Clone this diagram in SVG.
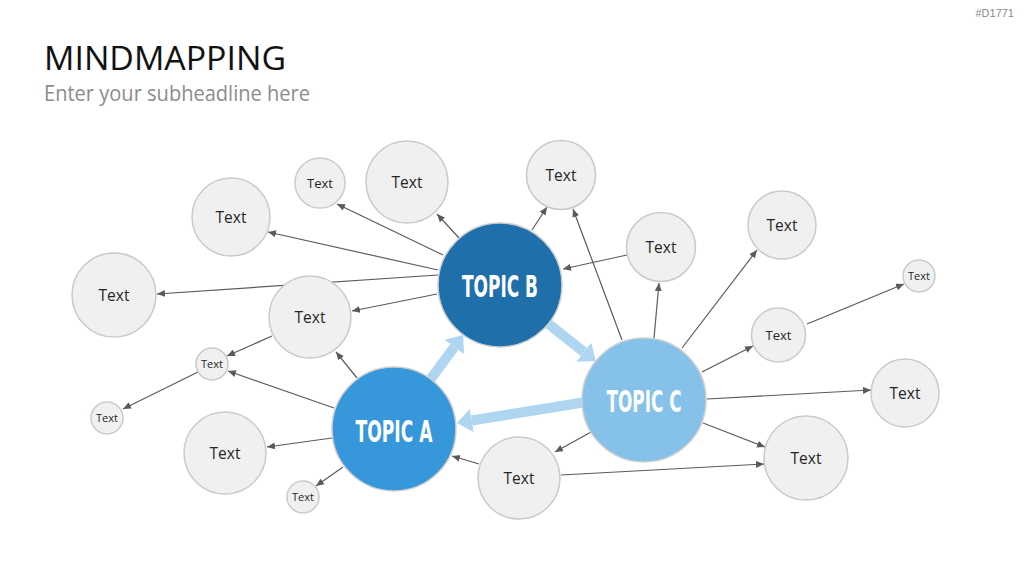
<svg xmlns="http://www.w3.org/2000/svg" width="1024" height="576" viewBox="0 0 1024 576">
<style>
.title{font-family:"Open Sans","Liberation Sans",sans-serif;font-size:33px;fill:#111}
.sub{font-family:"Open Sans","Liberation Sans",sans-serif;font-size:21px;fill:#8c8c8c}
.code{font-family:"Liberation Sans",sans-serif;font-size:11px;fill:#8a8a8a}
.n{fill:#f0f0f0;stroke:#cacaca;stroke-width:1.5}
.t{font-family:"Open Sans","Liberation Sans",sans-serif;fill:#262626;text-anchor:middle}
.tp{font-family:"Liberation Sans Narrow","DejaVu Sans Condensed","Roboto",sans-serif;font-weight:bold;fill:#fff;text-anchor:middle;font-size:31px}
.c{stroke:#5a5a5a;stroke-width:1.2;fill:none;marker-end:url(#ah)}
.big{stroke:#aed6f1;stroke-width:10;fill:none;marker-end:url(#bh)}
</style>
<defs>
<marker id="ah" markerUnits="userSpaceOnUse" markerWidth="10" markerHeight="8" refX="8" refY="3.5" orient="auto"><path d="M0,0 L8,3.5 L0,7 z" fill="#5a5a5a"/></marker>
<marker id="bh" markerUnits="userSpaceOnUse" markerWidth="18" markerHeight="26" refX="0" refY="12" orient="auto"><path d="M0,0 L15,12 L0,24 z" fill="#aed6f1"/></marker>
</defs>
<rect width="1024" height="576" fill="#fff"/>
<text class="code" x="1014" y="17" text-anchor="end">#D1771</text>
<text class="title" x="44" y="70" textLength="242" lengthAdjust="spacingAndGlyphs">MINDMAPPING</text>
<text class="sub" x="44" y="101" textLength="266" lengthAdjust="spacingAndGlyphs">Enter your subheadline here</text>
<g id="connectors">
<line class="c" x1="443" y1="255" x2="337" y2="204"/>
<line class="c" x1="459" y1="238" x2="437" y2="214"/>
<line class="c" x1="438" y1="270" x2="268" y2="232"/>
<line class="c" x1="438" y1="275" x2="157" y2="294"/>
<line class="c" x1="437" y1="294" x2="352" y2="311"/>
<line class="c" x1="532" y1="230" x2="547" y2="207"/>
<line class="c" x1="627" y1="255" x2="563" y2="269"/>
<line class="c" x1="622" y1="340" x2="573" y2="209"/>
<line class="c" x1="654" y1="338" x2="659" y2="283"/>
<line class="c" x1="682" y1="348" x2="757" y2="250"/>
<line class="c" x1="702" y1="372" x2="753" y2="346"/>
<line class="c" x1="807" y1="324" x2="904" y2="284"/>
<line class="c" x1="707" y1="399" x2="871" y2="390"/>
<line class="c" x1="703" y1="423" x2="765" y2="447"/>
<line class="c" x1="561" y1="475" x2="764" y2="464"/>
<line class="c" x1="591" y1="432" x2="555" y2="452"/>
<line class="c" x1="357" y1="378" x2="336" y2="352"/>
<line class="c" x1="334" y1="408" x2="228" y2="371"/>
<line class="c" x1="332" y1="438" x2="267" y2="447"/>
<line class="c" x1="343" y1="467" x2="316" y2="486"/>
<line class="c" x1="479" y1="464" x2="452" y2="456"/>
<line class="c" x1="272" y1="336" x2="227" y2="356"/>
<line class="c" x1="198" y1="372" x2="123" y2="409"/>
<line class="big" x1="430" y1="380" x2="454.3" y2="347"/>
<line class="big" x1="548" y1="323.5" x2="583.9" y2="352"/>
<line class="big" x1="583" y1="402.5" x2="471.8" y2="420.5"/>
</g>
<g id="n1"><circle class="n" cx="231" cy="217" r="39"/><text class="t" x="231" y="222.5" font-size="15.5">Text</text></g>
<g id="n2"><circle class="n" cx="320" cy="183" r="25"/><text class="t" x="320" y="188" font-size="13">Text</text></g>
<g id="n3"><circle class="n" cx="407" cy="182" r="41"/><text class="t" x="407" y="187.5" font-size="15.5">Text</text></g>
<g id="n4"><circle class="n" cx="114" cy="295" r="42"/><text class="t" x="114" y="300.5" font-size="15.5">Text</text></g>
<g id="n5"><circle class="n" cx="310" cy="317" r="41"/><text class="t" x="310" y="322.5" font-size="15.5">Text</text></g>
<g id="n6"><circle class="n" cx="212" cy="364" r="16"/><text class="t" x="212" y="368" font-size="11">Text</text></g>
<g id="n7"><circle class="n" cx="107" cy="418" r="16"/><text class="t" x="107" y="422" font-size="11">Text</text></g>
<g id="n8"><circle class="n" cx="225" cy="453" r="41"/><text class="t" x="225" y="458.5" font-size="15.5">Text</text></g>
<g id="n9"><circle class="n" cx="303" cy="497" r="16"/><text class="t" x="303" y="501" font-size="11">Text</text></g>
<g id="n10"><circle class="n" cx="519" cy="478" r="41"/><text class="t" x="519" y="483.5" font-size="15.5">Text</text></g>
<g id="n11"><circle class="n" cx="561" cy="175" r="34.5"/><text class="t" x="561" y="180.5" font-size="15.5">Text</text></g>
<g id="n12"><circle class="n" cx="661" cy="247" r="34.5"/><text class="t" x="661" y="252.5" font-size="15.5">Text</text></g>
<g id="n13"><circle class="n" cx="782" cy="225" r="34"/><text class="t" x="782" y="230.5" font-size="15.5">Text</text></g>
<g id="n14"><circle class="n" cx="919" cy="276" r="16"/><text class="t" x="919" y="280" font-size="11">Text</text></g>
<g id="n15"><circle class="n" cx="778.5" cy="335" r="27"/><text class="t" x="778.5" y="339.5" font-size="13">Text</text></g>
<g id="n16"><circle class="n" cx="905" cy="393" r="34"/><text class="t" x="905" y="398.5" font-size="15.5">Text</text></g>
<g id="n17"><circle class="n" cx="806" cy="458" r="42"/><text class="t" x="806" y="463.5" font-size="15.5">Text</text></g>
<g id="topicB"><circle cx="500" cy="285" r="62" fill="#1f70aa" stroke="#cfcfcf" stroke-width="1.5"/><text class="tp" x="500" y="297" textLength="76" lengthAdjust="spacingAndGlyphs">TOPIC B</text></g>
<g id="topicA"><circle cx="394" cy="429" r="62" fill="#3697da" stroke="#cfcfcf" stroke-width="1.5"/><text class="tp" x="394" y="442" textLength="77" lengthAdjust="spacingAndGlyphs">TOPIC A</text></g>
<g id="topicC"><circle cx="644" cy="400" r="62" fill="#85c1e9" stroke="#cfcfcf" stroke-width="1.5"/><text class="tp" x="644" y="412" textLength="75" lengthAdjust="spacingAndGlyphs">TOPIC C</text></g>
</svg>
